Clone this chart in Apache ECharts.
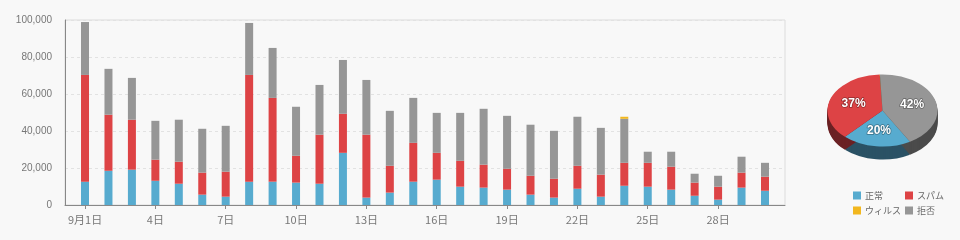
<!DOCTYPE html>
<html><head><meta charset="utf-8">
<script src="https://cdn.jsdelivr.net/npm/echarts@6/dist/echarts.min.js"></script>
<style>html,body{margin:0;padding:0;background:#f8f8f8;}#c{width:960px;height:240px;}</style>
</head><body><div id="c"></div>
<script>
// ---- data ----
const days = ['9月1日','2日','3日','4日','5日','6日','7日','8日','9日','10日','11日','12日','13日','14日','15日','16日','17日','18日','19日','20日','21日','22日','23日','24日','25日','26日','27日','28日','29日','30日'];
const tickLabels = ['9月1日','4日','7日','10日','13日','16日','19日','22日','25日','28日'];
const seriesNames = ['正常','スパム','ウィルス','拒否'];
const normal = [12600,18500,19100,13100,11500,5600,4500,12600,12600,12100,11500,28200,4000,6700,12600,13700,9900,9400,8300,5600,4000,8800,4500,10400,9900,8300,5000,2900,9400,7700];
const spam   = [57700,30300,27000,11400,11900,11900,13500,57700,45300,14500,26500,21100,34000,14500,21000,14500,14000,12400,11300,10200,10200,12400,11900,12400,12900,12400,7100,7000,8100,7600];
const virus  = [0,0,0,0,0,0,0,0,0,0,0,0,0,0,0,0,0,0,0,0,0,0,0,1100,0,0,0,0,0,0];
const reject = [28600,24800,22600,21000,22700,23700,24800,28100,27000,26500,26900,29100,29600,29700,24300,21600,25900,30200,28600,27600,25900,26500,25300,23800,6000,8100,4800,5900,8600,7500];
const pieValues = [20.3, 37.2, 0.07, 42.4];
const yTicks = [0, 20000, 40000, 60000, 80000, 100000];

// ---- style ----
const colors = ['#57abcf','#dd4345','#f2b71e','#969696'];
const sideColors = ['#2b5265','#6b2124','#7a5c10','#4b4b4b'];
const FONT = '"Liberation Sans", "Noto Sans CJK JP", sans-serif';
const JFONT = '"Noto Sans CJK JP", sans-serif';

const chart = echarts.init(document.getElementById('c'), null, {renderer:'canvas'});
function fmt(v){ return String(v).replace(/\B(?=(\d{3})+(?!\d))/g, ','); }

// pie geometry (layout)
const pie = {cx: 882.5, cy: 110.5, r: 55, squash: 0.655, depth: 13, start: 60*Math.PI/180};
const pieTotal = pieValues.reduce((a,b)=>a+b,0);
const pieStarts = [];
{ let acc = 0; pieValues.forEach(v=>{ pieStarts.push(acc); acc += v; }); }

function renderPie(params, api){
  const i = params.dataIndex;
  const v = api.value(0);
  const a0 = pie.start + pieStarts[i]/pieTotal*Math.PI*2;
  const a1 = a0 + v/pieTotal*Math.PI*2;
  const children = [];
  for (let k = pie.depth; k >= 1; k--) {
    children.push({type:'sector', x: pie.cx, y: pie.cy + k, scaleY: pie.squash, z2: 1,
      shape:{cx:0, cy:0, r:pie.r, r0:0, startAngle:a0, endAngle:a1, clockwise:true},
      style:{fill: sideColors[i]}});
  }
  children.push({type:'sector', x: pie.cx, y: pie.cy, scaleY: pie.squash, z2: 10,
    shape:{cx:0, cy:0, r:pie.r, r0:0, startAngle:a0, endAngle:a1, clockwise:true},
    style:{fill: colors[i]}});
  const pct = v/pieTotal*100;
  if (pct >= 1) {
    const m = (a0+a1)/2;
    children.push({type:'text', z2: 20,
      x: pie.cx + Math.cos(m)*pie.r*0.56,
      y: pie.cy + Math.sin(m)*pie.r*0.56*pie.squash,
      style:{text: Math.round(pct)+'%', fill:'#fff', font:'bold 12px ' + FONT,
        align:'center', verticalAlign:'middle', stroke:'rgba(0,0,0,0.35)', lineWidth:1.5}});
  }
  return {type:'group', children};
}

const legendCommon = {
  orient: 'vertical', itemGap: 6, itemWidth: 8, itemHeight: 8, icon: 'rect', top: 186,
  textStyle: {color: '#666', fontSize: 9, fontFamily: JFONT, padding: [0,0,0,-1]}
};

const yRange = {min: yTicks[0], max: yTicks[yTicks.length-1], interval: yTicks[1]-yTicks[0]};

const option = {
  backgroundColor: '#f8f8f8',
  animation: false,
  textStyle: {fontFamily: FONT},
  grid: [
    {left: 65, right: 175, top: 20, bottom: 35, show: true, borderColor: '#dcdcdc', borderWidth: 1, backgroundColor: 'transparent'},
    {left: 73.3, right: 183.3, top: 20, bottom: 35}
  ],
  legend: [
    Object.assign({}, legendCommon, {left: 848, data: [seriesNames[0], seriesNames[2]]}),
    Object.assign({}, legendCommon, {left: 900, data: [seriesNames[1], seriesNames[3]]})
  ],
  xAxis: [
    {gridIndex: 0, type: 'value', min: 0, max: 1,
      axisLine: {show: true, lineStyle: {color: '#888'}},
      axisTick: {show: false}, axisLabel: {show: false}, splitLine: {show: false}},
    {gridIndex: 1, type: 'category', data: days, boundaryGap: true,
      axisLine: {show: false},
      axisTick: {show: true, length: 4, alignWithLabel: true, interval: 2, lineStyle: {color: '#888'}},
      axisLabel: {color: '#777', fontSize: 11, margin: 9, interval: 2, fontFamily: JFONT,
        formatter: (v, i) => tickLabels[i/3]},
      splitLine: {show: false}}
  ],
  yAxis: [
    Object.assign({gridIndex: 0, type: 'value',
      axisLine: {show: true, lineStyle: {color: '#888'}},
      axisTick: {show: false},
      axisLabel: {color: '#777', fontSize: 10, margin: 13, formatter: v => fmt(v)},
      splitLine: {show: true, lineStyle: {color: '#e2e2e2', type: [3,3]}}}, yRange),
    Object.assign({gridIndex: 1, type: 'value', show: false, splitLine: {show: false}}, yRange)
  ],
  series: [
    {name: seriesNames[0], type: 'bar', stack: 'all', barWidth: 8, xAxisIndex: 1, yAxisIndex: 1, data: normal, itemStyle: {color: colors[0]}},
    {name: seriesNames[1], type: 'bar', stack: 'all', barWidth: 8, xAxisIndex: 1, yAxisIndex: 1, data: spam, itemStyle: {color: colors[1]}},
    {name: seriesNames[3], type: 'bar', stack: 'all', barWidth: 8, xAxisIndex: 1, yAxisIndex: 1, data: reject, itemStyle: {color: colors[3]}},
    {name: seriesNames[2], type: 'bar', stack: 'all', barWidth: 8, xAxisIndex: 1, yAxisIndex: 1, data: virus, itemStyle: {color: colors[2]}},
    {name: 'pie', type: 'custom', coordinateSystem: 'none', renderItem: renderPie,
      data: pieValues.map(v=>[v]), silent: true}
  ]
};
chart.setOption(option);
</script></body></html>
